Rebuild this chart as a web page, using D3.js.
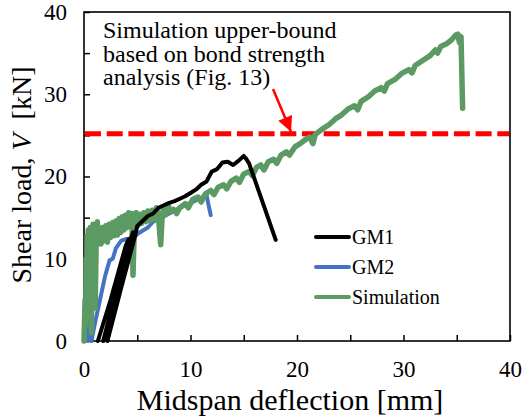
<!DOCTYPE html>
<html>
<head>
<meta charset="utf-8">
<script src="https://cdn.jsdelivr.net/npm/d3@7/dist/d3.min.js"></script>
<style>
  html, body { margin: 0; padding: 0; background: #fff; }
  svg, svg text { font-family: "Liberation Serif", "Times New Roman", serif; }
</style>
</head>
<body>
<svg id="chart" width="522" height="419"></svg>
<script>
// Midspan deflection [mm] vs shear load [kN]
const gm1 = [
  [1.3,0],[2.5,5],[3.9,11.5],[4.2,12.4],[3.6,9.5],[2.0,0.5],[1.8,0],[3.0,6],[4.4,12.5],[4.6,13.2],
  [4.0,10],[2.2,0],[3.5,6.5],[4.8,12.8],[5.0,14],[5.5,14.6],[6.0,15.2],[6.5,15.5],[7.0,16.2],
  [7.5,16.5],[8.0,16.8],[8.5,17.0],[9.0,17.3],[9.5,17.6],[10.0,18.0],[10.5,18.4],[11.0,19.0],
  [11.5,19.4],[12.0,20.6],[12.5,20.9],[13.0,21.7],[13.5,21.8],[14.0,21.4],[14.5,21.9],
  [15.0,22.5],[15.2,22.2],[15.5,21.6],[18.0,12.3]
];
const gm2 = [
  [0.35,0],[0.4,3.5],[0.5,1],[0.7,0],[1.0,2],[1.5,5],[2.0,8],[2.4,9.8],[2.7,10.0],[3.0,11.3],
  [3.5,12.2],[4.0,12.4],[4.3,12.0],[5.0,13.0],[6.0,13.8],[6.5,14.5],[7.0,14.8],[8.0,15.5],
  [9.0,16.2],[10.0,16.8],[11.0,17.4],[11.5,17.8],[11.7,16.5],[11.9,15.3]
];
const simulation = [
  [0,0],[0.1,5],[0.15,2],[0.2,10],[0.25,6],[0.3,12.8],[0.35,8],[0.4,13.5],[0.45,3],[0.5,12],
  [0.55,7],[0.6,13.8],[0.7,1],[0.75,11],[0.85,14.2],[0.9,9],[1.0,13.5],[1.05,4],[1.15,12.8],
  [1.25,14.5],[1.35,12.5],[1.5,13.5],[1.6,11.8],[1.75,13.8],[1.9,12.2],[2.05,14.0],[2.2,12.0],
  [2.35,14.2],[2.5,12.6],[2.7,14.4],[2.85,12.8],[3.0,14.6],[3.15,12.9],[3.3,14.9],[3.45,13.2],
  [3.6,15.1],[3.75,13.5],[3.9,15.3],[4.05,13.8],[4.2,15.6],[4.35,14.2],[4.5,15.5],[4.6,8],
  [4.75,14.8],[4.9,15.6],[5.05,14.0],[5.2,15.4],[5.4,14.3],[5.6,15.6],[5.8,14.5],[6.0,15.8],
  [6.2,14.6],[6.4,15.9],[6.6,14.8],[6.8,16.2],[7.0,15.0],[7.2,11.7],[7.35,15.4],[7.5,16.3],
  [7.7,15.4],[7.9,16.5],[8.1,15.8],[8.4,16.0],[8.7,15.5],[9.0,16.2],[9.5,16.7],[9.8,16.2],
  [10.2,17.2],[10.7,17.5],[11.0,16.9],[11.4,17.9],[11.9,18.3],[12.2,17.8],[12.6,18.7],
  [13.1,19.0],[13.4,18.5],[13.8,19.4],[14.3,19.8],[14.6,19.3],[15.0,20.3],[15.5,20.6],
  [15.8,20.1],[16.2,21.1],[16.6,21.4],[16.9,20.8],[17.3,21.8],[17.8,22.1],[18.1,21.6],
  [18.5,22.6],[19.0,23.0],[19.3,22.6],[19.8,23.6],[20.3,24.0],[20.8,24.5],[21.2,24.8],
  [21.5,24.0],[21.7,25.1],[22.3,25.7],[23.0,26.3],[23.6,27.0],[24.2,27.5],[24.8,28.2],
  [25.4,28.6],[25.7,28.1],[26.0,29.1],[26.7,29.7],[27.3,30.4],[27.9,30.8],[28.2,30.4],
  [28.5,31.3],[29.2,31.8],[29.8,32.5],[30.5,33.0],[30.8,32.6],[31.1,33.5],[31.8,34.1],
  [32.5,34.7],[33.0,35.4],[33.2,35.0],[33.5,35.8],[34.0,36.1],[34.5,36.6],[34.9,37.2],
  [35.1,37.3],[35.25,36.3],[35.4,37.0],[35.55,28.3]
];
const upperBound = 25.2;           // bond-strength upper bound [kN]
const xTicks = [0, 5, 10, 15, 20, 25, 30, 35, 40];
const yTicks = [0, 5, 10, 15, 20, 25, 30, 35, 40];
const legendNames = ["GM1", "GM2", "Simulation"];
const noteLines = ["Simulation upper-bound", "based on bond strength", "analysis (Fig. 13)"];

const colors = { GM1: "#000000", GM2: "#4472c4", Simulation: "#5b9a62" };
const serif = "'Liberation Serif', 'Times New Roman', serif";

const svg = d3.select("#chart");
const x = d3.scaleLinear().domain([0, 40]).range([84, 510]);
const y = d3.scaleLinear().domain([0, 40]).range([341, 12]);

// axes with inward ticks
const xAxis = d3.axisBottom(x).tickValues(xTicks).tickSize(-6).tickPadding(20)
  .tickFormat(d => d % 10 === 0 ? d : "");
const yAxis = d3.axisLeft(y).tickValues(yTicks).tickSize(-6).tickPadding(17)
  .tickFormat(d => d % 10 === 0 ? d : "");

const gx = svg.append("g").attr("transform", `translate(0,${y(0)})`).call(xAxis);
const gy = svg.append("g").attr("transform", `translate(${x(0)},0)`).call(yAxis);
[gx, gy].forEach(g => {
  g.attr("font-family", null).style("font-family", serif).attr("font-size", 23);
  g.select(".domain").remove();
  g.selectAll("line").attr("stroke", "#000").attr("stroke-width", 1.5);
  g.selectAll("text").style("font-family", serif).attr("font-size", 23).attr("fill", "#000");
});

// plot frame
svg.append("rect")
  .attr("x", x(0)).attr("y", y(40))
  .attr("width", x(40) - x(0)).attr("height", y(0) - y(40))
  .attr("fill", "none").attr("stroke", "#000").attr("stroke-width", 1.6);

// upper-bound line
svg.append("line")
  .attr("x1", x(0) + 1).attr("x2", x(40) - 1)
  .attr("y1", y(upperBound)).attr("y2", y(upperBound))
  .attr("stroke", "#ff0000").attr("stroke-width", 5)
  .attr("stroke-dasharray", "16,5.7");

const line = d3.line().x(d => x(d[0])).y(d => y(d[1]));
const series = [
  { name: "GM2", data: gm2, w: 4 },
  { name: "Simulation", data: simulation, w: 5.5 },
  { name: "GM1", data: gm1, w: 4 }
];
svg.append("g").selectAll("path").data(series).join("path")
  .attr("d", d => line(d.data))
  .attr("fill", "none")
  .attr("stroke", d => colors[d.name])
  .attr("stroke-width", d => d.w)
  .attr("stroke-linejoin", "round")
  .attr("stroke-linecap", "round");

// note text
const note = svg.append("text").style("font-family", serif).attr("font-size", 24).attr("fill", "#000");
noteLines.forEach((t, i) => {
  note.append("tspan").attr("x", 103).attr("y", 38 + i * 23.5).text(t);
});

// arrow to the upper-bound line
const defs = svg.append("defs");
defs.append("marker").attr("id", "arrowhead")
  .attr("viewBox", "0 0 10 10").attr("refX", 10).attr("refY", 5)
  .attr("markerWidth", 22).attr("markerHeight", 15)
  .attr("markerUnits", "userSpaceOnUse")
  .attr("orient", "auto")
  .append("path").attr("d", "M0,0 L10,5 L0,10 Z").attr("fill", "#ff0000");
svg.append("line")
  .attr("x1", 273).attr("y1", 89)
  .attr("x2", 291).attr("y2", y(upperBound) - 2)
  .attr("stroke", "#ff0000").attr("stroke-width", 2.5)
  .attr("marker-end", "url(#arrowhead)");

// legend
const lg = svg.append("g");
legendNames.forEach((n, i) => {
  const ly = 237 + i * 30;
  lg.append("line").attr("x1", 316).attr("x2", 349).attr("y1", ly).attr("y2", ly)
    .attr("stroke", colors[n]).attr("stroke-width", 4).attr("stroke-linecap", "round");
  lg.append("text").attr("x", 352).attr("y", ly).attr("dy", "0.35em")
    .style("font-family", serif).attr("font-size", 20).attr("fill", "#000").text(n);
});

// axis titles
svg.append("text").attr("x", 290).attr("y", 410).attr("text-anchor", "middle")
  .style("font-family", serif).attr("font-size", 30).attr("fill", "#000")
  .text("Midspan deflection [mm]");
const yt = svg.append("text")
  .attr("transform", "translate(31,175) rotate(-90)")
  .style("font-family", serif)
  .attr("text-anchor", "middle").attr("font-size", 28).attr("fill", "#000");
yt.append("tspan").text("Shear load, ");
yt.append("tspan").attr("font-style", "italic").text("V");
yt.append("tspan").text("\u00a0 [kN]");
</script>
</body>
</html>
